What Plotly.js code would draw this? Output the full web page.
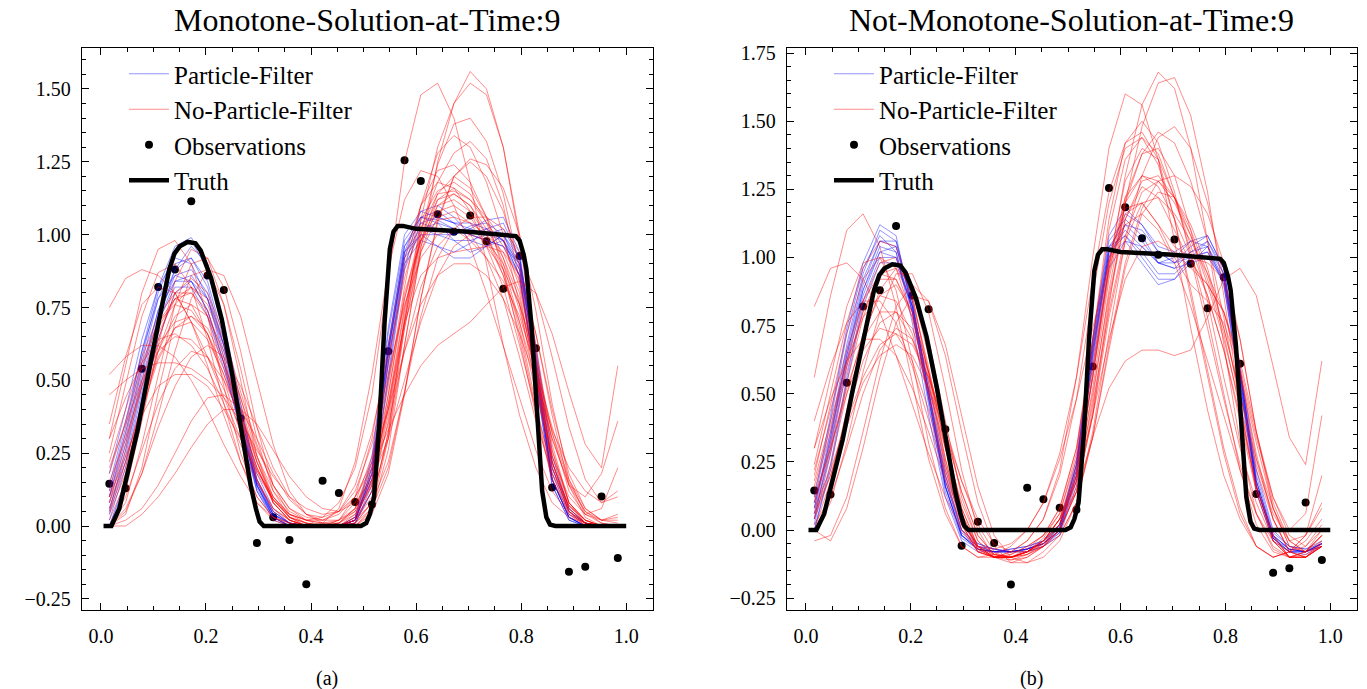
<!DOCTYPE html>
<html>
<head>
<meta charset="utf-8">
<script src="https://cdn.plot.ly/plotly-3.0.1.min.js"></script>
<style>html,body{margin:0;padding:0;background:#fff;}#plot{width:1367px;height:689px;}</style>
</head>
<body>
<div id="plot"></div>
<script>
// ---- data ----
const xGrid = [0.016,0.047,0.078,0.109,0.141,0.172,0.203,0.234,0.266,0.297,0.328,0.359,0.391,0.422,0.453,0.484,
               0.516,0.547,0.578,0.609,0.641,0.672,0.703,0.734,0.766,0.797,0.828,0.859,0.891,0.922,0.953,0.984];

const truthX = [0.005,0.02,0.035,0.05,0.07,0.09,0.11,0.13,0.14,0.15,0.165,0.18,0.19,0.2,0.21,0.23,0.25,0.27,0.285,0.295,0.302,0.31,
                0.495,0.505,0.512,0.52,0.53,0.54,0.55,0.557,0.565,0.575,0.6,0.7,0.78,0.79,0.797,0.805,0.81,0.82,0.83,0.84,0.848,0.855,0.865,1.0];
const truthY = [0.0,0.0,0.06,0.17,0.33,0.52,0.71,0.88,0.935,0.96,0.975,0.97,0.945,0.9,0.85,0.71,0.52,0.3,0.14,0.06,0.015,0.0,
                0.0,0.01,0.04,0.1,0.35,0.7,0.95,1.01,1.03,1.03,1.02,1.01,1.0,0.995,0.98,0.93,0.88,0.68,0.4,0.12,0.03,0.005,0.0,0.0];

const obsY = [0.145,0.13,0.54,0.82,0.88,1.115,0.86,0.81,0.37,-0.058,0.03,-0.048,-0.2,0.155,0.113,0.082,
              0.074,0.6,1.255,1.184,1.07,1.01,1.066,0.977,0.814,0.927,0.61,0.132,-0.157,-0.14,0.101,-0.11];

const monoPF = [
 [0.05,0.26,0.52,0.74,0.88,0.92,0.84,0.64,0.38,0.14,0.03,0.0,0.0,0.0,0.0,0.02,0.18,0.62,0.96,1.04,1.02,1.00,1.03,1.04,1.0,0.88,0.52,0.16,0.03,0.0,0.0,0.0],
 [0.10,0.32,0.58,0.80,0.94,0.98,0.88,0.66,0.36,0.12,0.02,0.0,0.0,0.0,0.0,0.03,0.22,0.66,0.98,1.06,1.05,1.02,1.0,1.02,0.98,0.86,0.50,0.14,0.02,0.0,0.0,0.0],
 [0.02,0.20,0.46,0.70,0.84,0.86,0.78,0.60,0.36,0.14,0.04,0.01,0.0,0.0,0.0,0.01,0.14,0.56,0.92,1.06,1.08,1.04,0.98,0.96,0.98,0.90,0.56,0.18,0.04,0.01,0.0,0.0],
 [0.14,0.36,0.60,0.78,0.86,0.84,0.74,0.56,0.34,0.14,0.04,0.01,0.0,0.0,0.0,0.02,0.20,0.60,0.94,1.00,0.96,0.94,0.97,1.02,1.04,0.92,0.54,0.16,0.03,0.0,0.0,0.0],
 [0.0,0.16,0.44,0.70,0.88,0.96,0.90,0.70,0.42,0.16,0.04,0.0,0.0,0.0,0.0,0.01,0.12,0.52,0.90,1.04,1.06,1.04,1.02,1.0,0.98,0.88,0.58,0.20,0.05,0.01,0.0,0.0],
 [0.08,0.28,0.54,0.74,0.84,0.84,0.74,0.56,0.32,0.12,0.03,0.0,0.0,0.0,0.0,0.02,0.16,0.58,0.94,1.08,1.10,1.06,1.00,0.98,0.96,0.86,0.52,0.16,0.03,0.0,0.0,0.0],
 [0.18,0.40,0.64,0.82,0.92,0.90,0.78,0.58,0.34,0.13,0.03,0.0,0.0,0.0,0.0,0.02,0.18,0.60,0.92,1.00,1.00,1.00,1.02,1.05,1.06,0.94,0.56,0.16,0.03,0.0,0.0,0.0],
 [0.04,0.22,0.48,0.70,0.82,0.82,0.72,0.54,0.34,0.15,0.05,0.01,0.0,0.0,0.0,0.02,0.16,0.56,0.90,0.98,0.96,0.92,0.92,0.96,1.0,0.92,0.60,0.22,0.06,0.01,0.0,0.0],
 [0.12,0.34,0.60,0.82,0.96,0.99,0.90,0.68,0.40,0.15,0.04,0.01,0.0,0.0,0.0,0.03,0.24,0.68,1.00,1.08,1.06,1.04,1.04,1.02,0.98,0.86,0.50,0.14,0.02,0.0,0.0,0.0],
 [0.06,0.24,0.50,0.72,0.86,0.88,0.80,0.62,0.38,0.16,0.05,0.01,0.0,0.0,0.0,0.02,0.18,0.60,0.94,1.02,1.00,0.98,0.98,1.0,1.02,0.92,0.58,0.20,0.05,0.01,0.0,0.0],
 [0.0,0.14,0.40,0.64,0.80,0.84,0.78,0.62,0.40,0.18,0.06,0.01,0.0,0.0,0.0,0.01,0.12,0.50,0.88,1.02,1.04,1.02,1.0,0.98,0.96,0.90,0.62,0.24,0.06,0.01,0.0,0.0],
 [0.10,0.30,0.56,0.78,0.90,0.92,0.82,0.62,0.36,0.14,0.03,0.0,0.0,0.0,0.0,0.02,0.20,0.62,0.96,1.06,1.04,0.98,0.94,0.96,1.0,0.90,0.54,0.16,0.03,0.0,0.0,0.0]
];

const monoNoPF = [
 [0.10,0.28,0.50,0.68,0.78,0.80,0.74,0.58,0.36,0.16,0.05,0.01,0.0,0.0,0.0,0.02,0.12,0.45,0.80,0.98,1.05,1.06,1.04,1.00,0.94,0.80,0.50,0.20,0.05,0.01,0.0,0.0],
 [0.75,0.85,0.88,0.86,0.80,0.70,0.58,0.44,0.30,0.18,0.09,0.04,0.02,0.02,0.05,0.14,0.32,0.58,0.85,1.05,1.15,1.18,1.14,1.04,0.90,0.70,0.46,0.24,0.10,0.04,0.02,0.03],
 [0.0,0.02,0.06,0.14,0.25,0.36,0.44,0.45,0.40,0.30,0.18,0.09,0.04,0.02,0.02,0.05,0.15,0.35,0.60,0.82,0.96,1.02,1.0,0.92,0.78,0.58,0.36,0.18,0.07,0.02,0.0,0.0],
 [0.20,0.35,0.50,0.60,0.65,0.64,0.58,0.47,0.33,0.19,0.09,0.03,0.01,0.0,0.01,0.06,0.22,0.55,0.88,1.10,1.22,1.24,1.18,1.06,0.88,0.64,0.38,0.16,0.05,0.01,0.0,0.0],
 [0.05,0.20,0.40,0.57,0.68,0.72,0.68,0.56,0.40,0.22,0.09,0.03,0.0,0.0,0.0,0.03,0.15,0.42,0.75,0.98,1.10,1.12,1.08,1.00,0.88,0.68,0.42,0.18,0.05,0.0,0.0,0.0],
 [0.30,0.55,0.80,0.95,0.98,0.90,0.72,0.48,0.25,0.10,0.03,0.01,0.0,0.0,0.0,0.01,0.08,0.32,0.70,1.05,1.30,1.45,1.52,1.48,1.30,1.00,0.62,0.28,0.08,0.01,0.0,0.0],
 [0.02,0.15,0.38,0.60,0.76,0.82,0.78,0.64,0.44,0.24,0.10,0.03,0.01,0.0,0.0,0.02,0.10,0.30,0.62,0.95,1.25,1.45,1.56,1.50,1.30,0.98,0.60,0.26,0.08,0.02,0.0,0.0],
 [0.45,0.50,0.54,0.56,0.56,0.54,0.50,0.44,0.36,0.26,0.17,0.10,0.06,0.04,0.05,0.10,0.22,0.40,0.60,0.76,0.86,0.90,0.90,0.86,0.78,0.66,0.50,0.33,0.20,0.12,0.08,0.10],
 [0.0,0.05,0.18,0.38,0.60,0.78,0.88,0.86,0.72,0.50,0.28,0.12,0.04,0.01,0.0,0.0,0.04,0.18,0.45,0.78,1.05,1.20,1.25,1.20,1.08,0.90,0.66,0.40,0.18,0.06,0.02,0.01],
 [0.52,0.58,0.62,0.62,0.58,0.50,0.40,0.28,0.17,0.08,0.03,0.01,0.0,0.0,0.02,0.08,0.24,0.50,0.78,0.98,1.08,1.10,1.06,0.98,0.86,0.70,0.50,0.30,0.14,0.05,0.02,0.02],
 [0.08,0.22,0.42,0.60,0.72,0.76,0.72,0.60,0.44,0.27,0.14,0.06,0.03,0.02,0.04,0.10,0.20,0.33,0.45,0.55,0.62,0.66,0.70,0.76,0.82,0.84,0.80,0.66,0.46,0.28,0.20,0.55],
 [0.15,0.30,0.48,0.62,0.70,0.72,0.66,0.54,0.38,0.22,0.10,0.04,0.02,0.03,0.08,0.20,0.45,0.85,1.25,1.48,1.52,1.40,1.18,0.90,0.62,0.38,0.20,0.08,0.03,0.01,0.0,0.0],
 [0.0,0.0,0.04,0.10,0.18,0.27,0.35,0.40,0.40,0.35,0.26,0.17,0.10,0.06,0.05,0.08,0.16,0.30,0.50,0.70,0.86,0.96,1.0,0.98,0.90,0.76,0.55,0.32,0.15,0.05,0.01,0.0],
 [0.0,0.12,0.36,0.62,0.84,0.95,0.92,0.76,0.50,0.24,0.08,0.02,0.0,0.0,0.0,0.0,0.06,0.30,0.68,0.96,1.12,1.16,1.12,1.04,0.96,0.84,0.56,0.22,0.05,0.0,0.0,0.0],
 [0.12,0.32,0.54,0.70,0.78,0.76,0.66,0.50,0.32,0.16,0.06,0.02,0.0,0.0,0.01,0.05,0.18,0.45,0.78,1.02,1.18,1.28,1.32,1.26,1.10,0.84,0.52,0.24,0.08,0.02,0.0,0.0],
 [0.0,0.06,0.18,0.34,0.48,0.58,0.62,0.58,0.48,0.34,0.20,0.10,0.04,0.03,0.05,0.12,0.28,0.52,0.76,0.92,1.0,1.02,0.98,0.92,0.84,0.72,0.54,0.34,0.16,0.06,0.02,0.04],
 [0.25,0.48,0.72,0.87,0.90,0.82,0.64,0.42,0.22,0.08,0.02,0.0,0.0,0.01,0.06,0.22,0.52,0.88,1.12,1.22,1.20,1.10,0.96,0.80,0.62,0.44,0.26,0.12,0.04,0.01,0.0,0.0],
 [0.06,0.22,0.42,0.58,0.68,0.70,0.64,0.52,0.36,0.20,0.08,0.02,0.0,0.0,0.0,0.04,0.16,0.42,0.70,0.86,0.92,0.94,0.95,0.96,0.94,0.86,0.66,0.38,0.14,0.03,0.0,0.0],
 [0.10,0.24,0.38,0.48,0.52,0.52,0.48,0.40,0.30,0.19,0.10,0.04,0.02,0.01,0.02,0.06,0.18,0.40,0.70,1.00,1.24,1.38,1.40,1.32,1.14,0.88,0.56,0.26,0.08,0.02,0.0,0.0],
 [0.04,0.18,0.42,0.64,0.80,0.85,0.80,0.66,0.46,0.28,0.14,0.06,0.02,0.01,0.01,0.04,0.14,0.38,0.70,0.98,1.14,1.20,1.16,1.06,0.92,0.74,0.52,0.30,0.14,0.10,0.18,0.36],
 [0.0,0.08,0.28,0.52,0.76,0.90,0.92,0.82,0.60,0.34,0.14,0.04,0.01,0.0,0.0,0.01,0.08,0.32,0.72,1.02,1.14,1.15,1.12,1.06,0.98,0.82,0.54,0.22,0.06,0.01,0.0,0.0],
 [0.18,0.36,0.56,0.70,0.76,0.74,0.66,0.52,0.36,0.20,0.09,0.03,0.01,0.0,0.0,0.02,0.08,0.22,0.46,0.72,0.92,1.02,1.06,1.06,1.02,0.94,0.80,0.58,0.34,0.16,0.08,0.12],
 [0.35,0.58,0.76,0.82,0.80,0.70,0.55,0.38,0.22,0.10,0.03,0.0,0.0,0.0,0.02,0.10,0.30,0.62,0.92,1.10,1.18,1.16,1.08,0.96,0.82,0.62,0.40,0.20,0.07,0.02,0.0,0.0],
 [0.0,0.10,0.26,0.42,0.54,0.60,0.58,0.50,0.38,0.24,0.12,0.05,0.02,0.0,0.0,0.01,0.06,0.20,0.46,0.78,1.04,1.20,1.26,1.24,1.16,1.00,0.74,0.42,0.16,0.04,0.01,0.0],
 [0.22,0.40,0.58,0.72,0.80,0.80,0.72,0.56,0.38,0.20,0.08,0.02,0.0,0.0,0.0,0.03,0.14,0.40,0.74,1.00,1.12,1.14,1.10,1.00,0.86,0.66,0.40,0.16,0.04,0.0,0.0,0.0],
 [0.0,0.04,0.20,0.46,0.70,0.86,0.88,0.76,0.54,0.30,0.12,0.03,0.0,0.0,0.0,0.0,0.05,0.26,0.62,0.94,1.10,1.14,1.10,1.02,0.92,0.78,0.52,0.22,0.06,0.01,0.0,0.0],
 [0.30,0.44,0.56,0.64,0.66,0.62,0.54,0.42,0.28,0.15,0.06,0.02,0.0,0.0,0.01,0.06,0.20,0.48,0.82,1.10,1.28,1.34,1.30,1.18,1.00,0.76,0.48,0.22,0.07,0.01,0.0,0.0],
 [0.08,0.26,0.48,0.66,0.78,0.82,0.76,0.62,0.42,0.22,0.08,0.02,0.0,0.0,0.0,0.02,0.12,0.36,0.68,0.94,1.06,1.08,1.04,0.96,0.88,0.76,0.58,0.32,0.12,0.04,0.06,0.20]
];

const nonPF = [
 [0.04,0.30,0.62,0.88,1.04,1.02,0.80,0.48,0.16,-0.02,-0.06,-0.07,-0.08,-0.07,-0.05,0.0,0.22,0.66,1.02,1.10,1.04,0.98,1.0,1.06,1.04,0.90,0.54,0.16,-0.03,-0.07,-0.08,-0.05],
 [0.08,0.36,0.68,0.94,1.10,1.06,0.82,0.48,0.16,-0.02,-0.07,-0.08,-0.08,-0.07,-0.04,0.02,0.26,0.70,1.06,1.14,1.08,0.98,0.96,1.02,1.06,0.94,0.56,0.16,-0.03,-0.08,-0.08,-0.06],
 [0.0,0.24,0.56,0.84,1.00,1.00,0.82,0.52,0.20,0.0,-0.06,-0.08,-0.08,-0.07,-0.05,-0.01,0.18,0.62,1.0,1.12,1.10,1.02,0.98,1.0,1.02,0.92,0.58,0.20,-0.01,-0.06,-0.07,-0.05],
 [0.10,0.40,0.72,0.96,1.08,1.02,0.76,0.42,0.12,-0.04,-0.08,-0.08,-0.07,-0.06,-0.04,0.02,0.24,0.68,1.04,1.08,1.0,0.92,0.92,0.98,1.04,0.94,0.56,0.16,-0.03,-0.08,-0.09,-0.06],
 [0.02,0.28,0.60,0.86,1.02,1.04,0.84,0.52,0.18,0.0,-0.05,-0.07,-0.08,-0.08,-0.06,-0.01,0.20,0.64,1.02,1.16,1.12,1.04,1.02,1.06,1.08,0.96,0.58,0.18,-0.02,-0.07,-0.08,-0.05],
 [0.06,0.34,0.66,0.92,1.06,1.04,0.82,0.50,0.18,-0.01,-0.06,-0.08,-0.08,-0.07,-0.05,0.0,0.22,0.66,1.02,1.08,1.02,0.94,0.94,1.00,1.02,0.90,0.52,0.14,-0.04,-0.08,-0.08,-0.05],
 [0.12,0.42,0.74,0.98,1.12,1.08,0.80,0.46,0.14,-0.03,-0.07,-0.08,-0.07,-0.06,-0.04,0.01,0.24,0.68,1.04,1.12,1.06,0.98,0.98,1.04,1.08,0.96,0.58,0.18,-0.02,-0.07,-0.08,-0.06],
 [0.0,0.22,0.54,0.82,0.98,0.98,0.82,0.54,0.22,0.02,-0.05,-0.07,-0.08,-0.08,-0.06,-0.02,0.16,0.58,0.96,1.06,1.04,0.98,0.96,0.98,1.0,0.92,0.60,0.22,0.0,-0.06,-0.07,-0.04],
 [0.04,0.32,0.64,0.90,1.06,1.06,0.84,0.50,0.16,-0.02,-0.07,-0.08,-0.08,-0.07,-0.05,0.01,0.24,0.70,1.08,1.18,1.12,1.02,0.98,1.02,1.04,0.92,0.54,0.16,-0.03,-0.08,-0.08,-0.05],
 [0.08,0.34,0.64,0.88,1.02,1.0,0.80,0.48,0.16,-0.02,-0.07,-0.08,-0.08,-0.07,-0.05,0.0,0.20,0.64,1.0,1.06,0.98,0.90,0.92,1.0,1.06,0.96,0.58,0.18,-0.02,-0.07,-0.08,-0.05]
];

const nonNoPF = [
 [0.30,0.56,0.82,0.98,1.0,0.88,0.62,0.32,0.08,-0.06,-0.10,-0.10,-0.08,-0.04,0.04,0.20,0.48,0.86,1.20,1.40,1.44,1.34,1.14,0.88,0.58,0.30,0.08,-0.06,-0.10,-0.08,-0.02,0.10],
 [0.56,0.86,1.10,1.16,1.04,0.82,0.54,0.26,0.06,-0.06,-0.10,-0.09,-0.06,0.0,0.10,0.28,0.56,0.92,1.24,1.42,1.46,1.36,1.14,0.86,0.56,0.28,0.06,-0.06,-0.10,-0.08,-0.02,0.08],
 [0.82,0.96,0.98,0.92,0.80,0.64,0.46,0.28,0.12,0.0,-0.06,-0.07,-0.05,0.0,0.10,0.26,0.48,0.74,0.98,1.12,1.16,1.10,0.98,0.82,0.62,0.42,0.22,0.06,-0.04,-0.08,-0.06,0.02],
 [0.0,-0.04,0.08,0.30,0.56,0.76,0.86,0.84,0.68,0.42,0.16,-0.02,-0.10,-0.12,-0.10,-0.04,0.10,0.36,0.72,1.06,1.30,1.44,1.48,1.40,1.20,0.92,0.58,0.26,0.04,-0.08,-0.10,-0.06],
 [0.18,0.40,0.62,0.78,0.86,0.84,0.72,0.50,0.24,0.04,-0.07,-0.10,-0.10,-0.08,-0.04,0.04,0.22,0.56,0.94,1.22,1.38,1.40,1.30,1.10,0.84,0.56,0.30,0.10,-0.04,-0.10,-0.10,-0.06],
 [0.04,0.24,0.50,0.72,0.86,0.90,0.80,0.58,0.30,0.06,-0.07,-0.10,-0.10,-0.08,-0.05,0.02,0.20,0.56,0.96,1.30,1.56,1.68,1.62,1.40,1.06,0.68,0.32,0.06,-0.07,-0.10,-0.09,-0.05],
 [0.10,0.30,0.52,0.70,0.80,0.80,0.70,0.52,0.30,0.10,-0.04,-0.09,-0.10,-0.09,-0.06,0.0,0.14,0.42,0.82,1.20,1.48,1.64,1.66,1.52,1.24,0.86,0.46,0.14,-0.04,-0.10,-0.10,-0.06],
 [0.20,0.46,0.72,0.92,1.0,0.96,0.78,0.50,0.20,0.0,-0.08,-0.10,-0.08,-0.04,0.04,0.22,0.56,1.00,1.40,1.60,1.56,1.36,1.06,0.74,0.44,0.20,0.04,-0.06,-0.10,-0.08,-0.04,0.04],
 [0.06,0.20,0.38,0.54,0.64,0.68,0.64,0.52,0.36,0.18,0.04,-0.05,-0.08,-0.08,-0.06,-0.02,0.10,0.34,0.66,0.96,1.16,1.24,1.22,1.12,0.96,0.74,0.50,0.26,0.08,-0.04,-0.08,-0.06],
 [0.14,0.36,0.60,0.80,0.92,0.92,0.80,0.58,0.32,0.08,-0.06,-0.10,-0.10,-0.08,-0.04,0.04,0.24,0.60,0.98,1.22,1.30,1.26,1.14,1.00,0.86,0.66,0.40,0.14,-0.04,-0.10,-0.08,0.0],
 [0.02,0.12,0.30,0.50,0.66,0.74,0.70,0.56,0.36,0.14,-0.02,-0.09,-0.10,-0.08,-0.04,0.04,0.14,0.34,0.52,0.62,0.66,0.66,0.64,0.66,0.78,0.92,0.96,0.86,0.60,0.34,0.24,0.62],
 [0.40,0.60,0.76,0.84,0.84,0.76,0.60,0.40,0.20,0.04,-0.06,-0.10,-0.10,-0.08,-0.04,0.04,0.20,0.50,0.86,1.14,1.28,1.30,1.22,1.08,0.90,0.70,0.46,0.22,0.04,-0.08,-0.10,-0.06],
 [0.0,0.10,0.32,0.58,0.80,0.94,0.94,0.80,0.52,0.22,0.0,-0.10,-0.12,-0.10,-0.06,0.0,0.14,0.44,0.84,1.14,1.26,1.22,1.10,0.98,0.90,0.80,0.58,0.28,0.04,-0.08,-0.10,-0.06],
 [0.24,0.50,0.76,0.96,1.06,1.04,0.86,0.56,0.24,0.02,-0.08,-0.10,-0.09,-0.06,-0.02,0.08,0.30,0.70,1.10,1.36,1.44,1.38,1.22,1.02,0.78,0.50,0.22,0.02,-0.08,-0.10,-0.08,-0.02],
 [-0.04,-0.02,0.12,0.36,0.62,0.82,0.90,0.84,0.64,0.36,0.10,-0.06,-0.12,-0.12,-0.08,-0.02,0.10,0.34,0.68,0.98,1.18,1.28,1.30,1.26,1.16,0.98,0.70,0.36,0.10,-0.04,-0.08,-0.04],
 [0.10,0.32,0.58,0.80,0.94,0.96,0.84,0.60,0.30,0.06,-0.06,-0.10,-0.10,-0.08,-0.04,0.02,0.18,0.52,0.92,1.20,1.30,1.28,1.20,1.08,0.92,0.72,0.44,0.16,-0.02,-0.10,-0.10,-0.06],
 [0.30,0.48,0.62,0.70,0.70,0.64,0.52,0.36,0.18,0.02,-0.08,-0.10,-0.10,-0.08,-0.04,0.04,0.18,0.42,0.70,0.92,1.04,1.06,1.02,0.96,0.90,0.80,0.62,0.36,0.12,-0.02,-0.06,0.0],
 [0.06,0.28,0.54,0.78,0.94,0.98,0.88,0.64,0.34,0.08,-0.06,-0.10,-0.10,-0.08,-0.05,0.0,0.16,0.48,0.88,1.20,1.38,1.46,1.42,1.28,1.06,0.78,0.46,0.16,-0.02,-0.10,-0.10,-0.05],
 [0.12,0.30,0.50,0.66,0.74,0.72,0.62,0.44,0.22,0.04,-0.06,-0.09,-0.10,-0.08,-0.03,0.06,0.26,0.60,0.96,1.16,1.20,1.12,1.00,0.90,0.84,0.76,0.58,0.32,0.08,-0.06,-0.08,-0.02],
 [0.0,0.18,0.44,0.70,0.88,0.96,0.90,0.70,0.40,0.12,-0.04,-0.10,-0.11,-0.09,-0.05,0.02,0.20,0.56,0.98,1.28,1.40,1.36,1.22,1.04,0.86,0.66,0.42,0.16,-0.02,-0.10,-0.10,-0.04],
 [0.22,0.44,0.66,0.84,0.94,0.92,0.78,0.54,0.26,0.04,-0.07,-0.10,-0.10,-0.07,-0.02,0.08,0.30,0.66,1.00,1.18,1.20,1.12,1.04,1.00,0.98,0.92,0.70,0.36,0.08,-0.06,-0.08,-0.02],
 [0.08,0.22,0.40,0.56,0.68,0.72,0.68,0.56,0.38,0.18,0.02,-0.08,-0.11,-0.10,-0.06,0.02,0.18,0.46,0.80,1.08,1.24,1.28,1.22,1.10,0.94,0.74,0.50,0.24,0.06,-0.04,-0.02,0.20],
 [0.16,0.38,0.62,0.84,0.98,1.00,0.86,0.58,0.26,0.02,-0.08,-0.10,-0.09,-0.06,-0.02,0.06,0.28,0.70,1.14,1.42,1.50,1.42,1.24,1.00,0.74,0.48,0.24,0.06,-0.06,-0.10,-0.08,-0.02],
 [0.04,0.20,0.42,0.62,0.76,0.80,0.74,0.58,0.36,0.14,-0.02,-0.09,-0.10,-0.09,-0.06,0.0,0.14,0.42,0.78,1.06,1.20,1.22,1.16,1.06,0.94,0.80,0.60,0.34,0.12,0.0,0.06,0.42]
];

const panelTitles = ["Monotone-Solution-at-Time:9", "Not-Monotone-Solution-at-Time:9"];
const subLabels = ["(a)", "(b)"];
const seriesNames = ["Particle-Filter", "No-Particle-Filter", "Observations", "Truth"];
const xTickVals = [0.0, 0.2, 0.4, 0.6, 0.8, 1.0];

// ---- build ----
const FONT = "Liberation Serif, Times New Roman, serif";
const BLUE = "rgba(0,0,255,0.42)";
const RED = "rgba(255,0,0,0.45)";
const traces = [];

function addPanel(pf, nopf, xa, ya, leg) {
  traces.push({x: xGrid, y: obsY, xaxis: xa, yaxis: ya, mode: "markers", type: "scatter",
    name: seriesNames[2], legend: leg, legendrank: 3, showlegend: true,
    marker: {color: "#000", size: 8}, hoverinfo: "skip"});
  pf.forEach((ys, k) => traces.push({x: xGrid, y: ys, xaxis: xa, yaxis: ya, mode: "lines", type: "scatter",
    name: seriesNames[0], legend: leg, legendgroup: leg + "pf", legendrank: 1, showlegend: k === 0,
    line: {color: BLUE, width: 1}, hoverinfo: "skip"}));
  nopf.forEach((ys, k) => traces.push({x: xGrid, y: ys, xaxis: xa, yaxis: ya, mode: "lines", type: "scatter",
    name: seriesNames[1], legend: leg, legendgroup: leg + "nopf", legendrank: 2, showlegend: k === 0,
    line: {color: RED, width: 1}, hoverinfo: "skip"}));
  traces.push({x: truthX, y: truthY, xaxis: xa, yaxis: ya, mode: "lines", type: "scatter",
    name: seriesNames[3], legend: leg, legendrank: 4, showlegend: true,
    line: {color: "#000", width: 4.5}, hoverinfo: "skip"});
}
addPanel(monoPF, monoNoPF, "x", "y", "legend");
addPanel(nonPF, nonNoPF, "x2", "y2", "legend2");

const W = 1367, H = 689;
function xAxis(l, r) {
  return {domain: [l / W, r / W], range: [-0.036, 1.051], tickvals: xTickVals, tickformat: ".1f",
    ticks: "inside", ticklen: 7, tickwidth: 1, tickcolor: "#000", mirror: "allticks", showline: true,
    linecolor: "#000", linewidth: 1.3, showgrid: false, zeroline: false, ticklabelstandoff: 8,
    tickfont: {family: FONT, size: 20, color: "#000"},
    minor: {dtick: 0.05, ticks: "inside", ticklen: 4, tickcolor: "#000", showgrid: false}};
}
function yAxis(anchor, range) {
  return {domain: [1 - 610 / H, 1 - 48 / H], range: range, dtick: 0.25, tick0: 0, tickformat: ".2f",
    anchor: anchor, ticks: "inside", ticklen: 7, tickwidth: 1, tickcolor: "#000", mirror: "allticks",
    showline: true, linecolor: "#000", linewidth: 1.3, showgrid: false, zeroline: false, ticklabelstandoff: 6,
    tickfont: {family: FONT, size: 20, color: "#000"},
    minor: {dtick: 0.05, ticks: "inside", ticklen: 4, tickcolor: "#000", showgrid: false}};
}
const legendStyle = (xpx) => ({x: xpx / W, y: 1 - 51 / H, xanchor: "left", yanchor: "top",
  bgcolor: "rgba(0,0,0,0)", borderwidth: 0, font: {family: FONT, size: 25, color: "#000"},
  traceorder: "normal", itemwidth: 40, tracegroupgap: 0});

const layout = {
  width: W, height: H, margin: {l: 0, r: 0, t: 0, b: 0},
  paper_bgcolor: "#fff", plot_bgcolor: "#fff", showlegend: true,
  xaxis: xAxis(82, 653), yaxis: yAxis("x", [-0.2883, 1.6407]),
  xaxis2: xAxis(787, 1357), yaxis2: yAxis("x2", [-0.2935, 1.7684]),
  legend: legendStyle(124), legend2: legendStyle(829),
  annotations: [
    {text: panelTitles[0], x: 367 / W, y: 1 - 20 / H, xref: "paper", yref: "paper", showarrow: false,
     xanchor: "center", yanchor: "middle", font: {family: FONT, size: 32, color: "#000"}},
    {text: panelTitles[1], x: 1071 / W, y: 1 - 20 / H, xref: "paper", yref: "paper", showarrow: false,
     xanchor: "center", yanchor: "middle", font: {family: FONT, size: 32, color: "#000"}},
    {text: subLabels[0], x: 327 / W, y: 1 - 678 / H, xref: "paper", yref: "paper", showarrow: false,
     xanchor: "center", yanchor: "middle", font: {family: FONT, size: 20, color: "#000"}},
    {text: subLabels[1], x: 1031 / W, y: 1 - 678 / H, xref: "paper", yref: "paper", showarrow: false,
     xanchor: "center", yanchor: "middle", font: {family: FONT, size: 20, color: "#000"}}
  ]
};
Plotly.newPlot("plot", traces, layout, {staticPlot: true, displayModeBar: false});
</script>
</body>
</html>
